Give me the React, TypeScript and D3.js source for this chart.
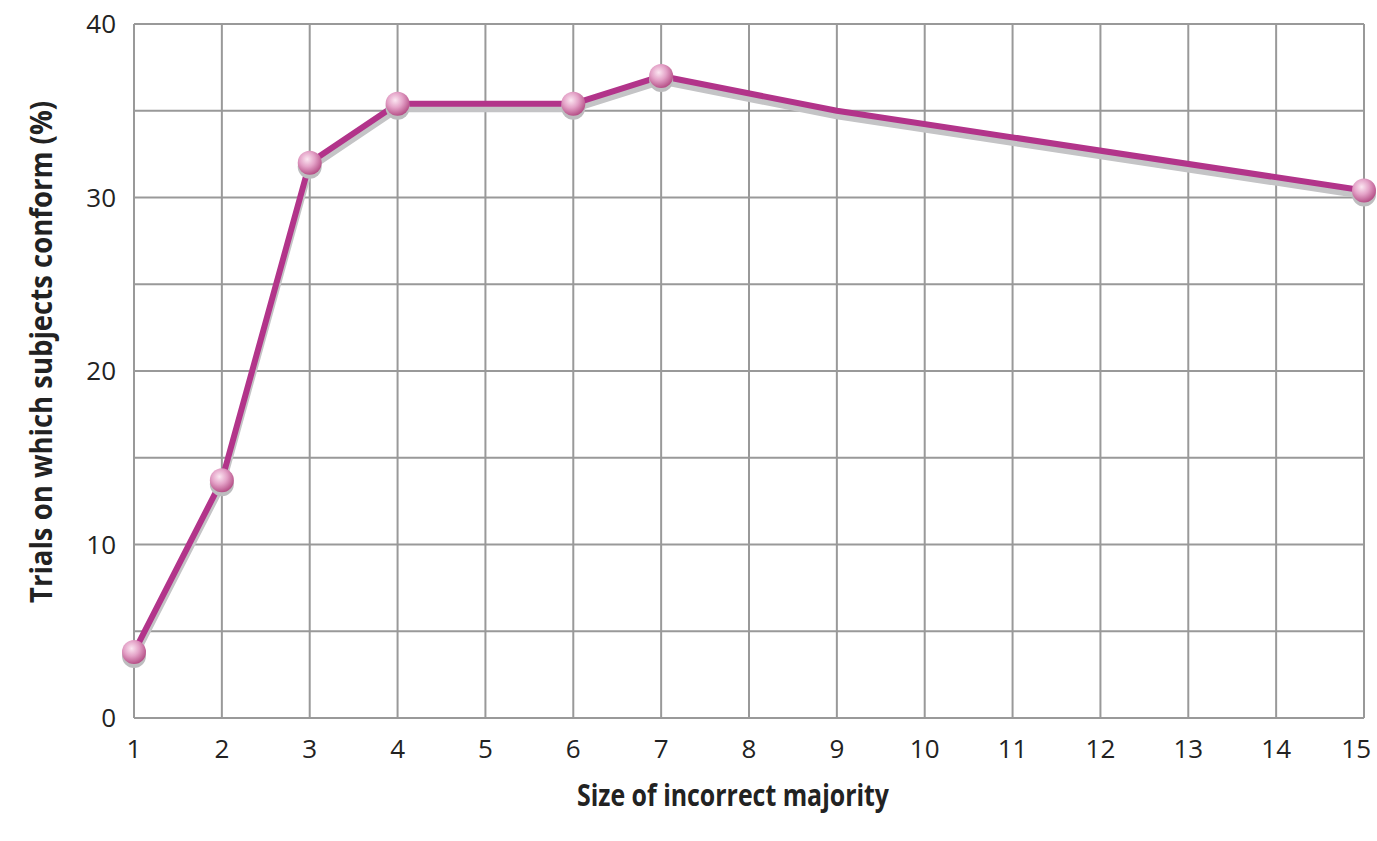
import React, { useEffect } from "react";
import * as d3 from "d3";

const xValues = [1, 2, 3, 4, 6, 7, 9, 15];
const yValues = [3.8, 13.7, 32.0, 35.4, 35.4, 37.0, 35.0, 30.4];
const markerX = [1, 2, 3, 4, 6, 7, 15];
const xTicks = [1, 2, 3, 4, 5, 6, 7, 8, 9, 10, 11, 12, 13, 14, 15];
const yTicksLabeled = [0, 10, 20, 30, 40];
const yGrid = [0, 5, 10, 15, 20, 25, 30, 35, 40];

const W = 1377, H = 841;
const M = { left: 134, right: 1364, top: 24, bottom: 718 };

export default function App() {
  useEffect(() => {
    document.body.style.margin = "0";
  }, []);
  const x = d3.scaleLinear().domain([1, 15]).range([M.left, M.right]);
  const y = d3.scaleLinear().domain([0, 40]).range([M.bottom, M.top]);
  const pts = xValues.map((v, i) => [v, yValues[i]] as [number, number]);
  const line = d3.line<[number, number]>().x(d => x(d[0])).y(d => y(d[1]));
  const path = line(pts) || "";
  const markers = pts.filter(p => markerX.includes(p[0]));
  const tickFont = "'Open Sans', sans-serif";
  const titleFont = "'Open Sans', sans-serif";
  const lastTick = xTicks[xTicks.length - 1];
  return (
    <svg width={W} height={H} style={{ display: "block" }}>
      <defs>
        <radialGradient id="ball" cx="0.4" cy="0.35" r="0.7">
          <stop offset="0" stopColor="#fbe6f1" />
          <stop offset="0.45" stopColor="#e4a3c8" />
          <stop offset="1" stopColor="#b0457f" />
        </radialGradient>
      </defs>
      <rect x={0} y={0} width={W} height={H} fill="#fff" />
      <g stroke="#999" strokeWidth={2}>
        {yGrid.map(v => (
          <line key={"h" + v} x1={M.left} x2={M.right} y1={y(v)} y2={y(v)} />
        ))}
        {xTicks.map(v => (
          <line key={"v" + v} x1={x(v)} x2={x(v)} y1={M.top} y2={M.bottom} />
        ))}
      </g>
      <path d={path} transform="translate(0,5)" fill="none" stroke="#c4c4c6" strokeWidth={7} strokeLinejoin="round" strokeLinecap="round" />
      <path d={path} fill="none" stroke="#b2348a" strokeWidth={6} strokeLinejoin="round" strokeLinecap="round" />
      {markers.map(p => (
        <g key={"m" + p[0]}>
          <circle cx={x(p[0])} cy={y(p[1]) + 4} r={12} fill="#bdbdbf" />
          <circle cx={x(p[0])} cy={y(p[1])} r={12} fill="url(#ball)" />
        </g>
      ))}
      <g fontFamily={tickFont} fontSize={26} fill="#222">
        {yTicksLabeled.map(v => (
          <text key={"yl" + v} x={116} y={y(v)} dy="0.35em" textAnchor="end">{v}</text>
        ))}
        {xTicks.map(v => (
          v === lastTick ? (
            <text key={"xl" + v} x={W - 6} y={758} textAnchor="end">{v}</text>
          ) : (
            <text key={"xl" + v} x={x(v)} y={758} textAnchor="middle">{v}</text>
          )
        ))}
      </g>
      <text x={733} y={806} textAnchor="middle" fontFamily={titleFont} fontWeight="bold" fontSize={30} fill="#222" textLength={312} lengthAdjust="spacingAndGlyphs">Size of incorrect majority</text>
      <text transform={`translate(52,${352}) rotate(-90)`} textAnchor="middle" fontFamily={titleFont} fontWeight="bold" fontSize={30} fill="#222" textLength={502} lengthAdjust="spacingAndGlyphs">Trials on which subjects conform (%)</text>
    </svg>
  );
}
